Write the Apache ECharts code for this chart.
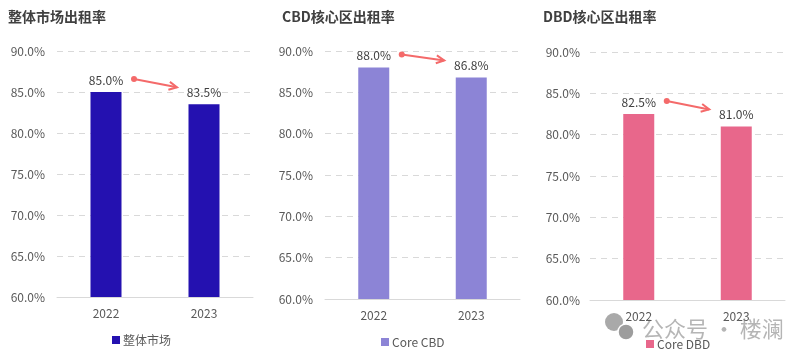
<!DOCTYPE html>
<html><head><meta charset="utf-8">
<script src="https://cdn.jsdelivr.net/npm/echarts@6/dist/echarts.min.js"></script>
<style>html,body{margin:0;padding:0;background:#fff}#c{width:800px;height:362px}</style>
</head><body><div id="c"></div>
<script>
const categories = ['2022', '2023'];
const titles = ['整体市场出租率', 'CBD核心区出租率', 'DBD核心区出租率'];
const seriesNames = ['整体市场', 'Core CBD', 'Core DBD'];
const overallValues = [85.0, 83.5];
const cbdValues = [88.0, 86.8];
const dbdValues = [82.5, 81.0];
const yTicks = [60, 65, 70, 75, 80, 85, 90];
const colors = ['#2411b0', '#8c84d6', '#e8678b'];

const allValues = [overallValues, cbdValues, dbdValues];
const FONT = '"Noto Sans CJK SC", "Noto Sans", sans-serif';
const grids = [
  {left: 57, width: 196, top: 51, height: 246},
  {left: 325, width: 195, top: 51, height: 248},
  {left: 590, width: 195, top: 52, height: 248}
];
const titleX = [3, 277, 538];
const legendX = [107, 376, 641];
const legendY = [329, 331, 333];

const chart = echarts.init(document.getElementById('c'));
const option = {
  animation: false,
  textStyle: {fontFamily: FONT},
  title: titles.map((t, i) => ({text: t, left: titleX[i], top: 5, textStyle: {fontSize: 14, fontWeight: 'bold', color: '#404040', fontFamily: FONT}})),
  grid: grids,
  legend: seriesNames.map((n, i) => ({data: [n], left: legendX[i], top: legendY[i], itemWidth: 8, itemHeight: 8, itemGap: 4, icon: 'rect', textStyle: {fontSize: 12, color: '#595959', fontFamily: FONT, padding: [0,0,0,-2]}})),
  xAxis: grids.map((g, i) => ({type: 'category', gridIndex: i, data: categories, axisTick: {show: false}, axisLine: {lineStyle: {color: '#d9d9d9'}}, axisLabel: {color: '#595959', fontSize: 12, margin: 10}})),
  yAxis: grids.map((g, i) => ({type: 'value', gridIndex: i, min: yTicks[0], max: yTicks[yTicks.length - 1], interval: 5, axisLine: {show: false}, axisTick: {show: false}, axisLabel: {color: '#595959', fontSize: 12, margin: i === 2 ? 10 : 12, formatter: v => v.toFixed(1) + '%'}, splitLine: {lineStyle: {color: '#d9d9d9', type: [6, 5]}}})),
  series: allValues.map((vals, i) => ({name: seriesNames[i], type: 'bar', xAxisIndex: i, yAxisIndex: i, data: vals, barWidth: 31, itemStyle: {color: colors[i]}, label: {show: true, position: 'top', distance: 6, color: '#404040', fontSize: 12, formatter: p => p.value.toFixed(1) + '%'}}))
};
chart.setOption(option);

const graphics = [];
allValues.forEach((vals, i) => {
  const p0 = chart.convertToPixel({seriesIndex: i}, [0, vals[0]]);
  const p1 = chart.convertToPixel({seriesIndex: i}, [1, vals[1]]);
  const x1 = p0[0] + 28, y1 = p0[1] - 13;
  const x2 = p1[0] - 27, y2 = p1[1] - 17;
  const ang = Math.atan2(y2 - y1, x2 - x1);
  graphics.push({type: 'line', shape: {x1: x1, y1: y1, x2: x2, y2: y2}, style: {stroke: '#f46a6a', lineWidth: 2}, z: 10});
  graphics.push({type: 'circle', shape: {cx: x1, cy: y1, r: 3}, style: {fill: '#f46a6a'}, z: 10});
  const L = 8, W = 4;
  const hx1 = x2 - L * Math.cos(ang) + W * Math.sin(ang), hy1 = y2 - L * Math.sin(ang) - W * Math.cos(ang);
  const hx2 = x2 - L * Math.cos(ang) - W * Math.sin(ang), hy2 = y2 - L * Math.sin(ang) + W * Math.cos(ang);
  graphics.push({type: 'polyline', shape: {points: [[hx1, hy1], [x2, y2], [hx2, hy2]]}, style: {stroke: '#f46a6a', lineWidth: 2, fill: null}, z: 10});
});
// watermark
graphics.push({type: 'group', z: 20, children: [
  {type: 'circle', shape: {cx: 614, cy: 322, r: 9}, style: {fill: 'rgba(140,140,140,0.75)'}},
  {type: 'circle', shape: {cx: 626, cy: 332, r: 8}, style: {fill: 'rgba(140,140,140,0.85)', stroke: '#fff', lineWidth: 1.5}},
  {type: 'text', style: {text: '公众号 · 楼澜', x: 642, y: 329, verticalAlign: 'middle', font: '22px "Noto Sans CJK SC"', fill: 'rgba(150,150,150,0.7)'}}
]});
chart.setOption({graphic: graphics});
</script></body></html>
